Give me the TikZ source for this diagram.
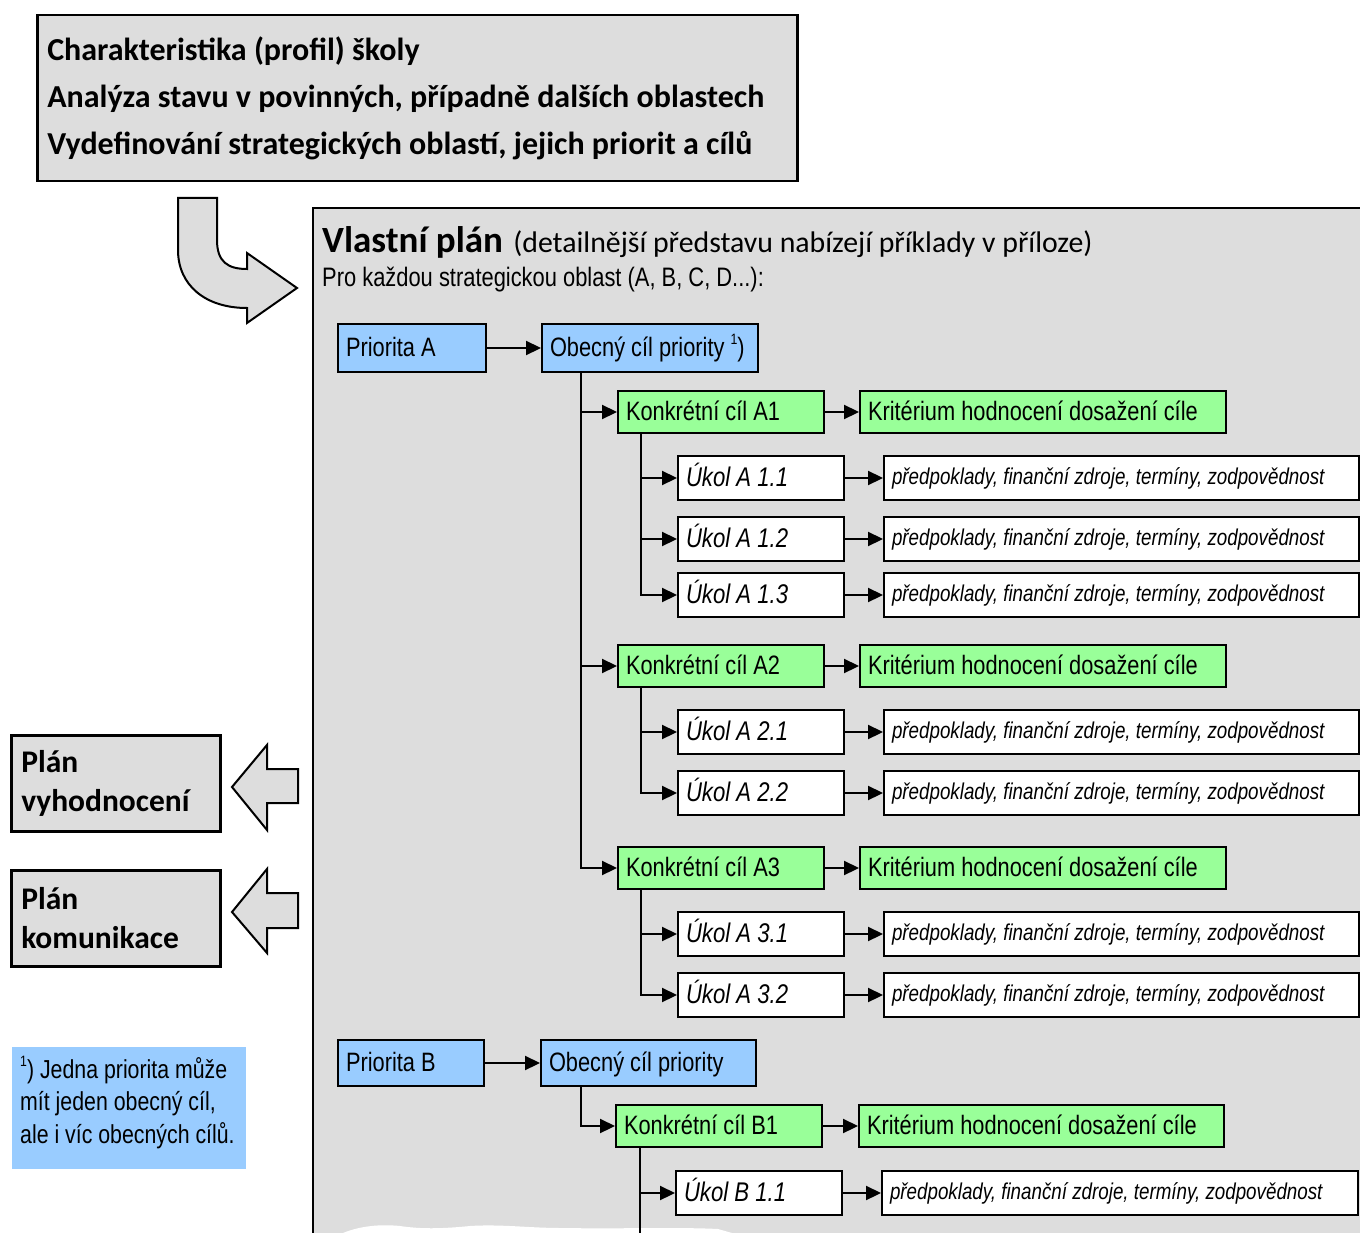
\documentclass[tikz,border=0pt]{standalone}
\usepackage{fontspec}
\setmainfont{Carlito}
\newfontfamily\nar[FakeStretch=0.82]{Liberation Sans}
\usetikzlibrary{arrows.meta}
\definecolor{bg}{RGB}{221,221,221}
\definecolor{blu}{RGB}{153,204,255}
\definecolor{grn}{RGB}{153,255,153}
\newcommand\supone{\raisebox{0.45em}{\fontsize{15}{15}\selectfont 1}}
\newcommand\bxnode[7]{%
  \pgfmathsetmacro\mybw{#5-#3-16}\pgfmathsetmacro\mybh{#6-#4}%
  \node[#1, text width=\mybw pt, minimum height=\mybh pt] (#2) at (#3,#4) {#7};}
\tikzset{
  nsp/.style={execute at begin node={\spaceskip=0pt\xspaceskip=0pt}},
  bx/.style={draw=black, line width=2pt, anchor=north west, inner xsep=8pt, inner ysep=0pt, align=left, nsp,
     text height=19pt, text depth=3pt, font=\nar\fontsize{26.6}{30}\selectfont},
  pri/.style={bx, fill=blu},
  kon/.style={bx, fill=grn},
  uk/.style={bx, fill=white, text height=19.3pt, font=\nar\itshape\fontsize{27}{30}\selectfont},
  pp/.style={bx, fill=white, text height=16.4pt, font=\nar\itshape\fontsize{22.9}{30}\selectfont},
  arr/.style={line width=2.2pt, -{Triangle[length=15pt,width=14pt]}},
  ln/.style={line width=2.2pt},
  gbox/.style={draw=black, line width=2.5pt, fill=bg, anchor=north west, inner xsep=10pt, inner ysep=0pt, align=left, nsp},
  blk/.style={draw=black, line width=2pt, fill=bg, line join=miter},
}
\begin{document}
\begin{tikzpicture}[x=1pt,y=-1pt]
\useasboundingbox (0,0) rectangle (1360,1233);
\clip (0,0) rectangle (1360,1233);
\fill[white] (0,0) rectangle (1360,1233);

% top box
\node[gbox, font=\bfseries\fontsize{32}{47}\selectfont, text width=740pt, minimum height=166pt] (TOP) at (36,14)
 {Charakteristika (profil) školy\\Analýza stavu v povinných, případně dalších oblastech\\Vydefinování strategických oblastí, jejich priorit a cílů};

% curved arrow
\draw[blk] (178,198) -- (217,198) -- (217,240) .. controls (217,262) and (228,269) .. (247,269)
  -- (247,253) -- (297,288) -- (247,323) -- (247,308) .. controls (205,308) and (178,285) .. (178,250) -- cycle;

% big box
\fill[bg] (313,208) rectangle (1370,1240);
\draw[line width=2.5pt] (1370,208) -- (313,208) -- (313,1240);
% torn edge
\fill[white] (338,1240) -- (343,1233) .. controls (360,1226) and (380,1224) .. (400,1226)
  .. controls (420,1229) and (440,1229) .. (470,1226) .. controls (500,1224) and (530,1228) .. (560,1228)
  .. controls (620,1229) and (680,1227) .. (718,1229) -- (732,1233) -- (734,1240) -- cycle;

% titles
\node[anchor=base west, inner sep=0pt, font=\bfseries\fontsize{37}{40}\selectfont] (T1) at (322,253) {Vlastní plán};
\node[anchor=base west, inner sep=0pt, font=\fontsize{29.8}{32}\selectfont] (T2) at ([xshift=10pt]T1.base east)
 {(detailnější představu nabízejí příklady v příloze)};
\node[anchor=base west, inner sep=0pt, font=\nar\fontsize{26.7}{30}\selectfont] (T3) at (322,287) {Pro každou strategickou oblast (A, B, C, D...):};

% priority A
\bxnode{pri}{PA}{337}{323}{485}{371}{Priorita A}
\bxnode{pri}{OA}{541}{323}{757}{371}{Obecný cíl priority \supone)}
\bxnode{kon}{KA1}{617}{390}{823}{432}{Konkrétní cíl A1}
\bxnode{kon}{CA1}{859}{390}{1225}{432}{Kritérium hodnocení dosažení cíle}
\bxnode{uk}{U11}{677}{455}{843}{499}{Úkol A 1.1}
\bxnode{pp}{P11}{883}{455}{1358}{499}{předpoklady, finanční zdroje, termíny, zodpovědnost}
\bxnode{uk}{U12}{677}{516}{843}{560}{Úkol A 1.2}
\bxnode{pp}{P12}{883}{516}{1358}{560}{předpoklady, finanční zdroje, termíny, zodpovědnost}
\bxnode{uk}{U13}{677}{572}{843}{616}{Úkol A 1.3}
\bxnode{pp}{P13}{883}{572}{1358}{616}{předpoklady, finanční zdroje, termíny, zodpovědnost}
\bxnode{kon}{KA2}{617}{644}{823}{686}{Konkrétní cíl A2}
\bxnode{kon}{CA2}{859}{644}{1225}{686}{Kritérium hodnocení dosažení cíle}
\bxnode{uk}{U21}{677}{709}{843}{753}{Úkol A 2.1}
\bxnode{pp}{P21}{883}{709}{1358}{753}{předpoklady, finanční zdroje, termíny, zodpovědnost}
\bxnode{uk}{U22}{677}{770}{843}{814}{Úkol A 2.2}
\bxnode{pp}{P22}{883}{770}{1358}{814}{předpoklady, finanční zdroje, termíny, zodpovědnost}
\bxnode{kon}{KA3}{617}{846}{823}{888}{Konkrétní cíl A3}
\bxnode{kon}{CA3}{859}{846}{1225}{888}{Kritérium hodnocení dosažení cíle}
\bxnode{uk}{U31}{677}{911}{843}{955}{Úkol A 3.1}
\bxnode{pp}{P31}{883}{911}{1358}{955}{předpoklady, finanční zdroje, termíny, zodpovědnost}
\bxnode{uk}{U32}{677}{972}{843}{1016}{Úkol A 3.2}
\bxnode{pp}{P32}{883}{972}{1358}{1016}{předpoklady, finanční zdroje, termíny, zodpovědnost}
% priority B
\bxnode{pri}{PB}{337}{1039}{483}{1085}{Priorita B}
\bxnode{pri}{OB}{540}{1039}{755}{1085}{Obecný cíl priority}
\bxnode{kon}{KB1}{615}{1104}{821}{1146}{Konkrétní cíl B1}
\bxnode{kon}{CB1}{858}{1104}{1223}{1146}{Kritérium hodnocení dosažení cíle}
\bxnode{uk}{UB1}{675}{1170}{841}{1214}{Úkol B 1.1}
\bxnode{pp}{PPB1}{881}{1170}{1357}{1214}{předpoklady, finanční zdroje, termíny, zodpovědnost}

% connectors A
\draw[arr] (PA.east) -- (OA.west);
\coordinate (sA) at ([xshift=40pt]OA.south west);
\draw[arr] (sA) |- (KA3.west);
\draw[arr] (sA |- KA1.west) -- (KA1.west);
\draw[arr] (sA |- KA2.west) -- (KA2.west);
\foreach \k/\c in {KA1/CA1,KA2/CA2,KA3/CA3,KB1/CB1} {\draw[arr] (\k.east) -- (\c.west);}
\coordinate (sA1) at ([xshift=24pt]KA1.south west);
\draw[arr] (sA1) |- (U13.west);
\draw[arr] (sA1 |- U11.west) -- (U11.west);
\draw[arr] (sA1 |- U12.west) -- (U12.west);
\coordinate (sA2) at ([xshift=24pt]KA2.south west);
\draw[arr] (sA2) |- (U22.west);
\draw[arr] (sA2 |- U21.west) -- (U21.west);
\coordinate (sA3) at ([xshift=24pt]KA3.south west);
\draw[arr] (sA3) |- (U32.west);
\draw[arr] (sA3 |- U31.west) -- (U31.west);
\foreach \u/\p in {U11/P11,U12/P12,U13/P13,U21/P21,U22/P22,U31/P31,U32/P32,UB1/PPB1} {\draw[arr] (\u.east) -- (\p.west);}
% connectors B
\draw[arr] (PB.east) -- (OB.west);
\coordinate (sB) at ([xshift=41pt]OB.south west);
\draw[arr] (sB) |- (KB1.west);
\coordinate (sB1) at ([xshift=25pt]KB1.south west);
\coordinate (sBend) at (640,1240);
\draw[ln] (sB1) -- (sB1 |- sBend);
\draw[arr] (sB1 |- UB1.west) -- (UB1.west);

% left boxes
\node[gbox, font=\bfseries\fontsize{31.5}{39}\selectfont, text width=189pt, minimum height=96pt] (PV) at (10,734) {Plán\\vyhodnocení};
\node[gbox, font=\bfseries\fontsize{31.5}{39}\selectfont, text width=189pt, minimum height=96pt] (PK) at (10,869) {Plán\\komunikace};
\draw[blk] (232,787) -- (267,745) -- (267,769) -- (298,769) -- (298,803) -- (267,803) -- (267,830) -- cycle;
\draw[blk] (232,912) -- (267,869) -- (267,893) -- (298,893) -- (298,928) -- (267,928) -- (267,953) -- cycle;

% footnote
\node[fill=blu, anchor=north west, inner sep=0pt, minimum width=234pt, minimum height=122pt] (FN) at (12,1047) {};
\node[anchor=north west, inner sep=0pt, align=left, font=\nar\fontsize{26}{32.5}\selectfont] (FNT) at (20,1056)
 {\supone) Jedna priorita může\\mít jeden obecný cíl,\\ale i víc obecných cílů.};
\end{tikzpicture}
\end{document}
